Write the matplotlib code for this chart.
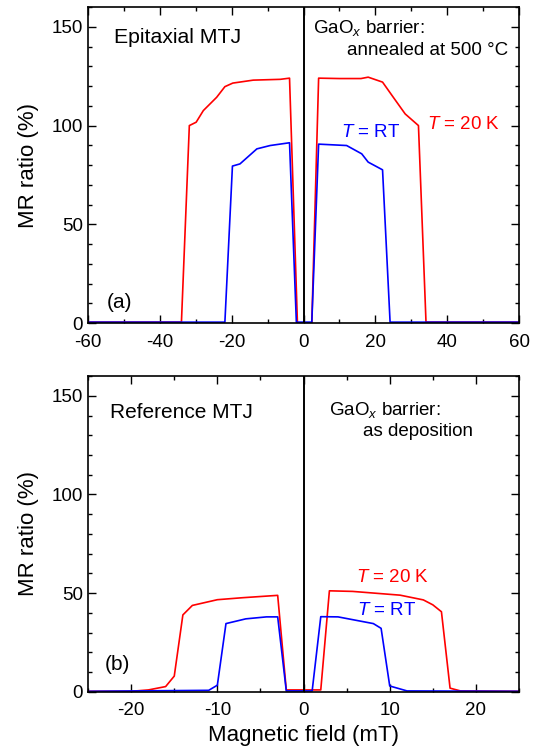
import matplotlib.pyplot as plt
from matplotlib.ticker import MultipleLocator

plt.rcParams["font.family"] = ["Liberation Sans", "DejaVu Sans"]
plt.rcParams["mathtext.fontset"] = "custom"
plt.rcParams["mathtext.rm"] = "Liberation Sans"
plt.rcParams["mathtext.it"] = "Liberation Sans:italic"
plt.rcParams["axes.unicode_minus"] = False
plt.rcParams["font.size"] = 14

# (a) epitaxial MTJ, annealed at 500 C
a_red_x = [-60, -34, -31.8, -29.9, -27.9, -24.2, -21.9, -19.7, -14, -6.5, -3.9, -1.7,
           2.3, 4.2, 10, 16, 18, 22, 25, 28.3, 32, 34.1, 60]
a_red_y = [0.5, 0.5, 100, 101.7, 107.6, 114.3, 119.7, 121.5, 123, 123.4, 124, 0,
           0, 124, 123.8, 123.8, 124.5, 122, 114.3, 105.9, 100, 0.5, 0.5]
a_blue_x = [-60, -21.9, -19.8, -17.7, -13, -9.3, -3.9, -2,
            2.3, 4.2, 12, 16.2, 18, 22, 24.1, 60]
a_blue_y = [0.5, 0.5, 79.5, 80.6, 88.2, 89.9, 91.3, 0.5,
            0.5, 90.6, 89.9, 85.7, 81.5, 77.6, 0.5, 0.5]

# (b) reference MTJ, as deposition
b_red_x = [-25, -20, -18, -16, -15, -14, -12.9, -10, -7.1, -3, -2,
           2, 3, 5.7, 11.2, 13.9, 15, 16, 17, 18.2, 25]
b_red_y = [0.3, 0.3, 1, 2.7, 8, 39, 43.8, 46.7, 47.7, 48.9, 1,
           1, 51.2, 50.9, 49, 46.6, 44.1, 40.6, 1.9, 0.5, 0.3]
b_blue_x = [-25, -11, -10, -9, -6.7, -4.3, -3, -2,
            1, 2, 4, 8.1, 9, 10, 12, 25]
b_blue_y = [0.3, 0.8, 3.4, 34.6, 37, 38, 38, 0.5,
            0.5, 38.1, 38, 34.6, 32.2, 3, 0.5, 0.3]

fig = plt.figure(figsize=(5.37, 7.48), dpi=100)
ax1 = fig.add_axes([0.164, 0.568, 0.8025, 0.4226])
ax2 = fig.add_axes([0.164, 0.075, 0.8025, 0.4223])


def style(ax, xlim, xmaj, xmin):
    ax.set_xlim(*xlim)
    ax.set_ylim(0, 160)
    ax.xaxis.set_major_locator(MultipleLocator(xmaj))
    ax.xaxis.set_minor_locator(MultipleLocator(xmin))
    ax.yaxis.set_major_locator(MultipleLocator(50))
    ax.yaxis.set_minor_locator(MultipleLocator(10))
    ax.tick_params(which="both", direction="in", top=True, right=True, width=1.0)
    ax.tick_params(which="major", length=6, labelsize=13.5)
    ax.tick_params(axis="x", which="major", pad=7.5)
    ax.tick_params(which="minor", length=3)
    for s in ax.spines.values():
        s.set_linewidth(1.2)
    ax.axvline(0, color="black", lw=1.4)
    ax.set_ylabel("MR ratio (%)", fontsize=16, labelpad=9)


ax1.plot(a_red_x, a_red_y, color="#ff0000", lw=1.2)
ax1.plot(a_blue_x, a_blue_y, color="#0000ff", lw=1.2)
style(ax1, (-60, 60), 20, 10)
ax1.text(-52.8, 144.4, "Epitaxial MTJ", fontsize=15.3, va="center")
ax1.text(2.6, 149.5, r"GaO$_x$ barrier:", fontsize=13.5, va="center")
ax1.text(57, 137.9, "annealed at 500 °C", fontsize=13.5, va="center", ha="right")
ax1.text(34.5, 100.5, r"$T$ = 20 K", fontsize=13.5, color="#ff0000", va="center")
ax1.text(10.5, 96.5, r"$T$ = RT", fontsize=13.5, color="#0000ff", va="center")
ax1.text(-54.7, 10.6, "(a)", fontsize=15, va="center")

ax2.plot(b_red_x, b_red_y, color="#ff0000", lw=1.2)
ax2.plot(b_blue_x, b_blue_y, color="#0000ff", lw=1.2)
style(ax2, (-25, 25), 10, 5)
ax2.text(-22.5, 141.3, "Reference MTJ", fontsize=15, va="center")
ax2.text(3.0, 142.6, r"GaO$_x$ barrier:", fontsize=13.5, va="center")
ax2.text(6.9, 132.1, "as deposition", fontsize=13.5, va="center")
ax2.text(6.1, 58, r"$T$ = 20 K", fontsize=13.5, color="#ff0000", va="center")
ax2.text(6.2, 41.2, r"$T$ = RT", fontsize=13.5, color="#0000ff", va="center")
ax2.text(-23.1, 13.9, "(b)", fontsize=15, va="center")
ax2.set_xlabel("Magnetic field (mT)", fontsize=16, labelpad=4)

fig.savefig("out.png", dpi=100)
